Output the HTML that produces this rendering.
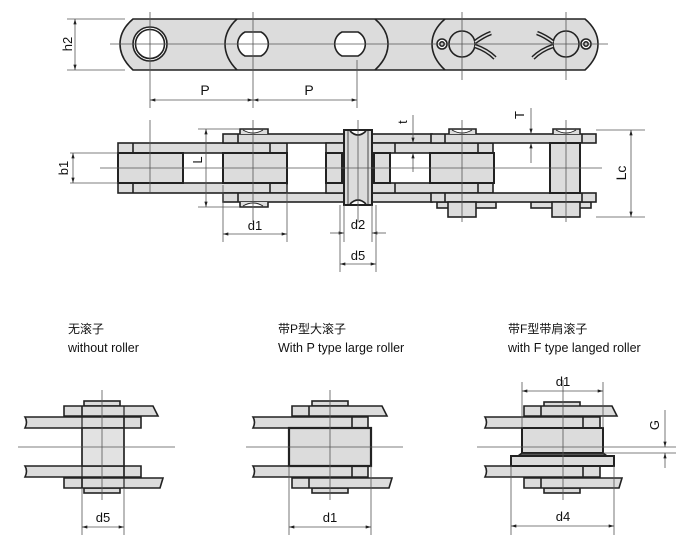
<!DOCTYPE html>
<html><head><meta charset="utf-8"><style>
html,body{margin:0;padding:0;background:#fff;}
svg{display:block}
text{font-family:"Liberation Sans","Noto Sans CJK SC",sans-serif;fill:#111}
</style></head><body>
<svg width="700" height="544" viewBox="0 0 700 544" xmlns="http://www.w3.org/2000/svg">
<defs>
<marker id="a" viewBox="0 0 10 6" refX="10" refY="3" markerWidth="8" markerHeight="4" orient="auto-start-reverse"><path d="M0,0L10,3L0,6z" fill="#222"/></marker>
</defs>
<g stroke="#222" fill="#dcdcdc" stroke-width="1.6">
<path d="M133,19 L585,19 Q598,30 598,44 Q598,58 585,70 L133,70 Q120,58 120,44 Q120,30 133,19 Z"/>
<path d="M237,19 Q225,30 225,44 Q225,58 237,70" fill="none"/>
<path d="M375,19 Q388,30 388,44 Q388,58 375,70" fill="none"/>
<path d="M445,19 Q432,30 432,44 Q432,58 445,70" fill="none"/>
<circle cx="150" cy="44" r="17" fill="#fff"/><circle cx="150" cy="44" r="14.5" fill="#fff"/>
<path d="M245,32 A13.5,13.5 0 0,0 245,56 L261,56 A13.5,13.5 0 0,0 261,32 Z" fill="#fff"/>
<path d="M342,32 A13.5,13.5 0 0,0 342,56 L358,56 A13.5,13.5 0 0,0 358,32 Z" fill="#fff"/>
<circle cx="462" cy="44" r="13" fill="#dcdcdc"/>
<circle cx="566" cy="44" r="13" fill="#dcdcdc"/>
<circle cx="442" cy="44" r="5" fill="#fff"/><circle cx="442" cy="44" r="2.2" fill="#fff"/>
<circle cx="586" cy="44" r="5" fill="#fff"/><circle cx="586" cy="44" r="2.2" fill="#fff"/>
<path d="M475,42 Q483,36 491,33" fill="none" stroke-width="4.5"/>
<path d="M475,46 Q487,50 495,58" fill="none" stroke-width="4.5"/>
<path d="M553,42 Q545,36 537,33" fill="none" stroke-width="4.5"/>
<path d="M553,46 Q541,50 533,58" fill="none" stroke-width="4.5"/>
</g>
<g stroke="#dcdcdc" fill="none" stroke-width="1.6">
<path d="M475,42 Q483,36 491,33"/><path d="M475,46 Q487,50 495,58"/>
<path d="M553,42 Q545,36 537,33"/><path d="M553,46 Q541,50 533,58"/>
</g>
<g stroke="#555" stroke-width="0.8" fill="none">
<line x1="110" y1="44" x2="608" y2="44"/>
<line x1="150" y1="12" x2="150" y2="108"/><line x1="253" y1="12" x2="253" y2="108"/>
<line x1="357" y1="60" x2="357" y2="108"/><line x1="462" y1="12" x2="462" y2="80"/><line x1="566" y1="12" x2="566" y2="80"/>
<line x1="67" y1="19" x2="125" y2="19"/><line x1="67" y1="70" x2="125" y2="70"/>
<line x1="75" y1="19" x2="75" y2="70" marker-start="url(#a)" marker-end="url(#a)"/>
<line x1="150" y1="100" x2="253" y2="100" marker-start="url(#a)" marker-end="url(#a)"/>
<line x1="253" y1="100" x2="357" y2="100" marker-start="url(#a)" marker-end="url(#a)"/>
</g>
<text x="0" y="0" font-size="13" transform="translate(72,44) rotate(-90)" text-anchor="middle">h2</text>
<text x="205" y="95" font-size="14" text-anchor="middle">P</text>
<text x="309" y="95" font-size="14" text-anchor="middle">P</text>

<g stroke="#222" fill="#dcdcdc" stroke-width="1.6">
<rect x="118" y="143" width="169" height="10"/><rect x="118" y="183" width="169" height="10"/>
<line x1="133" y1="143" x2="133" y2="153"/><line x1="270" y1="143" x2="270" y2="153"/>
<line x1="133" y1="183" x2="133" y2="193"/><line x1="270" y1="183" x2="270" y2="193"/>
<rect x="118" y="153" width="65" height="30" stroke-width="2"/>
<rect x="223" y="134" width="121" height="9"/><rect x="223" y="193" width="121" height="9"/>
<line x1="238" y1="134" x2="238" y2="143"/><line x1="238" y1="193" x2="238" y2="202"/>
<path d="M240,134 L240,129 L268,129 L268,134"/><path d="M240,202 L240,207 L268,207 L268,202"/>
<rect x="223" y="153" width="64" height="30" stroke-width="2"/>
<rect x="326" y="143" width="18" height="10"/><rect x="326" y="183" width="18" height="10"/>
<rect x="326" y="153" width="16" height="30" stroke-width="2"/>
<rect x="372" y="134" width="60" height="9"/><rect x="372" y="193" width="60" height="9"/>
<rect x="372" y="143" width="121" height="10"/><rect x="372" y="183" width="121" height="10"/>
<line x1="395" y1="143" x2="395" y2="153"/><line x1="478" y1="143" x2="478" y2="153"/>
<line x1="395" y1="183" x2="395" y2="193"/><line x1="478" y1="183" x2="478" y2="193"/>
<rect x="374" y="153" width="16" height="30" stroke-width="2"/>
<rect x="344" y="130" width="28" height="75" stroke-width="2"/>
<line x1="348" y1="130" x2="348" y2="205" stroke-width="0.8"/><line x1="368" y1="130" x2="368" y2="205" stroke-width="0.8"/>
<path d="M350,131 Q358,139 366,131" fill="#fff"/><path d="M350,204 Q358,196 366,204" fill="#fff"/>
<rect x="430" y="153" width="64" height="30" stroke-width="2"/>
<rect x="437" y="202" width="59" height="6"/><rect x="531" y="202" width="60" height="6"/>
<rect x="431" y="134" width="165" height="9"/><rect x="431" y="193" width="165" height="9"/>
<line x1="445" y1="134" x2="445" y2="143"/><line x1="582" y1="134" x2="582" y2="143"/>
<line x1="445" y1="193" x2="445" y2="202"/><line x1="582" y1="193" x2="582" y2="202"/>
<path d="M449,134 L449,129 L476,129 L476,134"/><path d="M553,134 L553,129 L580,129 L580,134"/>
<rect x="448" y="202" width="28" height="15"/><rect x="552" y="202" width="28" height="15"/>
<rect x="550" y="143" width="30" height="50" stroke-width="2"/>
<path d="M452,130 Q462,136 472,130" fill="#fff" stroke-width="1"/><path d="M556,130 Q566,136 576,130" fill="#fff" stroke-width="1"/>
<path d="M243,130 Q253,136 263,130" fill="#fff" stroke-width="1"/><path d="M243,206 Q253,200 263,206" fill="#fff" stroke-width="1"/>
</g>
<g stroke="#555" stroke-width="0.8" fill="none">
<line x1="100" y1="168" x2="602" y2="168"/>
<line x1="150" y1="120" x2="150" y2="192"/><line x1="253" y1="120" x2="253" y2="222"/>
<line x1="358" y1="120" x2="358" y2="222"/><line x1="462" y1="120" x2="462" y2="222"/><line x1="566" y1="120" x2="566" y2="222"/>
<line x1="70" y1="153" x2="118" y2="153"/><line x1="70" y1="183" x2="118" y2="183"/>
<line x1="73" y1="153" x2="73" y2="183" marker-start="url(#a)" marker-end="url(#a)"/>
<line x1="198" y1="129" x2="240" y2="129"/><line x1="198" y1="207" x2="240" y2="207"/>
<line x1="206" y1="129" x2="206" y2="207" marker-start="url(#a)" marker-end="url(#a)"/>
<line x1="223" y1="185" x2="223" y2="242"/><line x1="287" y1="185" x2="287" y2="242"/>
<line x1="223" y1="234" x2="287" y2="234" marker-start="url(#a)" marker-end="url(#a)"/>
<line x1="344" y1="205" x2="344" y2="242"/><line x1="372" y1="205" x2="372" y2="242"/>
<line x1="330" y1="233" x2="344" y2="233" marker-end="url(#a)"/><line x1="386" y1="233" x2="372" y2="233" marker-end="url(#a)"/>
<line x1="340" y1="205" x2="340" y2="272"/><line x1="376" y1="205" x2="376" y2="272"/>
<line x1="340" y1="264" x2="376" y2="264" marker-start="url(#a)" marker-end="url(#a)"/>
<line x1="413" y1="115" x2="413" y2="143" marker-end="url(#a)"/><line x1="413" y1="172" x2="413" y2="153" marker-end="url(#a)"/>
<line x1="531" y1="108" x2="531" y2="134" marker-end="url(#a)"/><line x1="531" y1="163" x2="531" y2="143" marker-end="url(#a)"/>
<line x1="596" y1="130" x2="645" y2="130"/><line x1="596" y1="217" x2="645" y2="217"/>
<line x1="631" y1="130" x2="631" y2="217" marker-start="url(#a)" marker-end="url(#a)"/>
</g>
<text font-size="13" transform="translate(68,168) rotate(-90)" text-anchor="middle">b1</text>
<text font-size="13" transform="translate(202,160) rotate(-90)" text-anchor="middle">L</text>
<text font-size="13" transform="translate(407,122) rotate(-90)" text-anchor="middle">t</text>
<text font-size="13" transform="translate(524,115) rotate(-90)" text-anchor="middle">T</text>
<text font-size="14" transform="translate(626,173) rotate(-90)" text-anchor="middle">Lc</text>
<text x="255" y="230" font-size="13" text-anchor="middle">d1</text>
<text x="358" y="229" font-size="13" text-anchor="middle">d2</text>
<text x="358" y="260" font-size="13" text-anchor="middle">d5</text>

<text x="68" y="333" font-size="12">无滚子</text>
<text x="68" y="352" font-size="12.5">without roller</text>
<text x="278" y="333" font-size="12">带P型大滚子</text>
<text x="278" y="352" font-size="12.5">With P type  large roller</text>
<text x="508" y="333" font-size="12">带F型带肩滚子</text>
<text x="508" y="352" font-size="12.5">with F type langed roller</text>

<g stroke="#222" fill="#dcdcdc" stroke-width="1.6">
<rect x="84" y="401" width="36" height="5"/><rect x="84" y="488" width="36" height="5"/>
<path d="M64,406 L153,406 L158,416 L64,416 Z"/><line x1="82" y1="406" x2="82" y2="416"/>
<path d="M64,478 L163,478 L160,488 L64,488 Z"/><line x1="82" y1="478" x2="82" y2="488"/>
<path d="M25,417 L141,417 L141,428 L25,428 Q28,422 25,417 Z"/><line x1="124" y1="417" x2="124" y2="428"/>
<path d="M25,466 L141,466 L141,477 L25,477 Q28,471 25,466 Z"/><line x1="124" y1="466" x2="124" y2="477"/>
<rect x="82" y="428" width="42" height="38" fill="#e2e2e2"/>
<line x1="82" y1="416" x2="82" y2="488" stroke-width="1.2"/><line x1="124" y1="406" x2="124" y2="488" stroke-width="1.2"/>
<rect x="312" y="401" width="36" height="5"/><rect x="312" y="488" width="36" height="5"/>
<path d="M292,406 L382,406 L387,416 L292,416 Z"/><line x1="309" y1="406" x2="309" y2="416"/>
<path d="M292,478 L392,478 L389,488 L292,488 Z"/><line x1="309" y1="478" x2="309" y2="488"/>
<path d="M253,417 L368,417 L368,428 L253,428 Q256,422 253,417 Z"/><line x1="352" y1="417" x2="352" y2="428"/>
<path d="M253,466 L368,466 L368,477 L253,477 Q256,471 253,466 Z"/><line x1="352" y1="466" x2="352" y2="477"/>
<rect x="289" y="428" width="82" height="38" stroke-width="2.2"/>
<rect x="544" y="402" width="36" height="5"/><rect x="544" y="488" width="36" height="5"/>
<path d="M524,406 L612,406 L617,416 L524,416 Z"/><line x1="541" y1="406" x2="541" y2="416"/>
<path d="M524,478 L622,478 L619,488 L524,488 Z"/><line x1="541" y1="478" x2="541" y2="488"/>
<path d="M485,417 L600,417 L600,428 L485,428 Q488,422 485,417 Z"/><line x1="583" y1="417" x2="583" y2="428"/>
<path d="M485,466 L600,466 L600,477 L485,477 Q488,471 485,466 Z"/><line x1="583" y1="466" x2="583" y2="477"/>
<rect x="522" y="428" width="81" height="25" stroke-width="2"/>
<path d="M522,453 L603,453 L607,456 L518,456 Z" fill="#555"/>
<rect x="511" y="456" width="103" height="10" stroke-width="2"/>
</g>
<g stroke="#555" stroke-width="0.8" fill="none">
<line x1="18" y1="447" x2="175" y2="447"/><line x1="102" y1="390" x2="102" y2="500"/>
<line x1="82" y1="488" x2="82" y2="535"/><line x1="124" y1="488" x2="124" y2="535"/>
<line x1="82" y1="527" x2="124" y2="527" marker-start="url(#a)" marker-end="url(#a)"/>
<line x1="246" y1="447" x2="403" y2="447"/><line x1="330" y1="390" x2="330" y2="500"/>
<line x1="289" y1="466" x2="289" y2="535"/><line x1="371" y1="466" x2="371" y2="535"/>
<line x1="289" y1="527" x2="371" y2="527" marker-start="url(#a)" marker-end="url(#a)"/>
<line x1="477" y1="447" x2="676" y2="447"/><line x1="603" y1="453" x2="676" y2="453"/>
<line x1="563" y1="380" x2="563" y2="500"/>
<line x1="522" y1="382" x2="522" y2="428"/><line x1="603" y1="382" x2="603" y2="428"/>
<line x1="522" y1="391" x2="603" y2="391" marker-start="url(#a)" marker-end="url(#a)"/>
<line x1="511" y1="466" x2="511" y2="535"/><line x1="614" y1="466" x2="614" y2="535"/>
<line x1="511" y1="526" x2="614" y2="526" marker-start="url(#a)" marker-end="url(#a)"/>
<line x1="665" y1="410" x2="665" y2="447" marker-end="url(#a)"/><line x1="665" y1="468" x2="665" y2="453" marker-end="url(#a)"/>
</g>
<text x="103" y="522" font-size="13" text-anchor="middle">d5</text>
<text x="330" y="522" font-size="13" text-anchor="middle">d1</text>
<text x="563" y="386" font-size="13" text-anchor="middle">d1</text>
<text x="563" y="521" font-size="13" text-anchor="middle">d4</text>
<text font-size="13" transform="translate(659,425) rotate(-90)" text-anchor="middle">G</text>
</svg>
</body></html>
